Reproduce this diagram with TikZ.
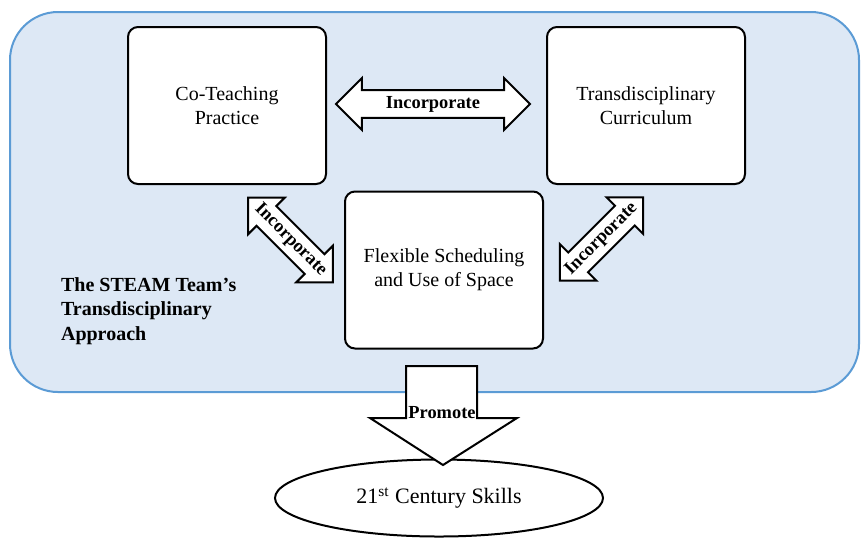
\documentclass[tikz,border=0pt]{standalone}
\usepackage{fontspec}
\setmainfont{Liberation Serif}
\usetikzlibrary{shapes.arrows,shapes.geometric}
\definecolor{panelfill}{RGB}{221,232,245}
\definecolor{panelline}{RGB}{91,155,213}

\begin{document}
\begin{tikzpicture}
  [
    x=0.5pt, y=-0.5pt,
    box/.style   = {draw, fill=white, line width=1pt, rounded corners=5pt,
                    minimum width=99pt, minimum height=78.5pt, align=center,
                    font=\fontsize{10}{12}\selectfont},
    link/.style  = {double arrow, draw, fill=white, line width=1pt,
                    double arrow head extend=6pt, inner sep=2.5pt,
                    font=\fontsize{9.2}{11}\selectfont\bfseries},
  ]

%Page frame
\useasboundingbox (0,0) rectangle (862,538);

%The blue panel behind the three boxes
\draw[panelline, fill=panelfill, line width=1pt, rounded corners=24pt] (10,12) rectangle (859,392);

%The three boxes
\node[box] (coteach) at (227,105.5) {Co-Teaching\\Practice};
\node[box] (curric)  at (646,105.5) {Transdisciplinary\\Curriculum};
\node[box] (flex)    at (444,270)   {Flexible Scheduling\\and Use of Space};

%Incorporate arrows between the boxes
\node[link, minimum height=97pt] (inc1) at (433,104) {Incorporate};
\node[link, minimum height=60pt, rotate=-45] (inc2) at (290.5,240) {\makebox[0pt]{Incorporate}};
\node[link, minimum height=59pt, rotate=45]  (inc3) at (601.5,239) {\makebox[0pt]{Incorporate}};

%Panel caption
\node[anchor=west, align=left, font=\fontsize{10}{12.2}\selectfont\bfseries] (team) at (54,311)
  {The STEAM Team’s\\Transdisciplinary\\Approach};

%Outcome
\node[draw, ellipse, line width=1pt, fill=white, minimum width=164pt, minimum height=38.5pt,
      font=\fontsize{11}{13}\selectfont] (skills) at (439,498) {21\textsuperscript{st} Century Skills};

%Promote arrow
\def \sl{406}
\def \sr{477}
\def \hy{418}
\draw[fill=white, line width=1pt] (\sl,366) -- (\sr,366) -- (\sr,\hy) -- (517,\hy)
  -- (443,465) -- (370,\hy) -- (\sl,\hy) -- cycle;
\node[font=\fontsize{9.2}{11}\selectfont\bfseries, inner sep=0pt] (promote) at (442,413) {Promote};
\end{tikzpicture}
\end{document}
